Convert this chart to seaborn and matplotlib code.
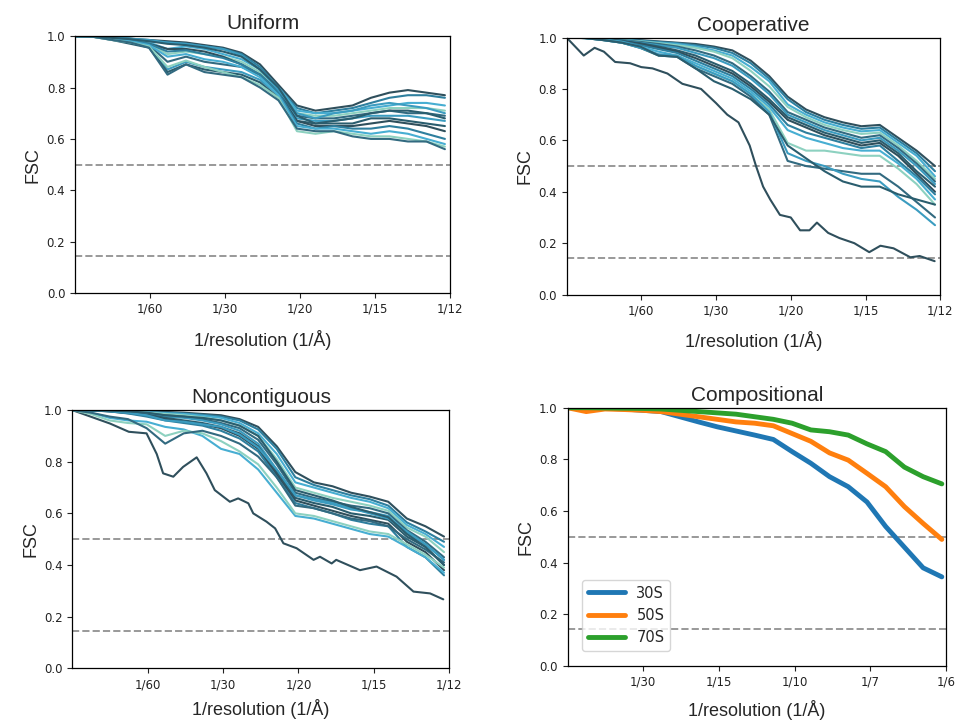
import numpy as np
import pandas as pd
import matplotlib
matplotlib.use("Agg")
import matplotlib.pyplot as plt
import seaborn as sns

# ---- data ----
# common sampling grid, fraction of the plotted x range
grid_frac = np.linspace(0, 1, 21)

uniform_curves = [
    [1.00, 1.00, .995, .99, .985, .98, .975, .965, .955, .935, .89, .81, .73, .71, .72, .73, .76, .78, .79, .78, .77],
    [1.00, 1.00, .995, .99, .98, .975, .97, .96, .95, .93, .88, .80, .72, .70, .71, .72, .74, .76, .77, .77, .76],
    [1.00, .998, .99, .985, .975, .95, .96, .95, .93, .91, .87, .80, .71, .70, .70, .71, .72, .73, .74, .74, .73],
    [1.00, .998, .99, .98, .97, .93, .94, .93, .92, .90, .86, .79, .70, .69, .69, .70, .71, .72, .72, .72, .71],
    [1.00, .998, .99, .98, .965, .90, .92, .90, .89, .88, .85, .78, .69, .68, .68, .69, .70, .71, .70, .70, .69],
    [1.00, .998, .988, .975, .96, .87, .90, .88, .87, .86, .83, .77, .68, .67, .67, .68, .69, .69, .69, .68, .67],
    [1.00, .997, .985, .97, .955, .86, .89, .87, .86, .85, .82, .76, .67, .66, .66, .66, .68, .68, .67, .66, .65],
    [1.00, .997, .99, .98, .97, .95, .95, .94, .92, .89, .85, .78, .67, .65, .65, .65, .66, .67, .66, .65, .63],
    [1.00, .998, .99, .985, .97, .94, .945, .93, .915, .89, .85, .78, .66, .64, .65, .64, .64, .65, .64, .62, .60],
    [1.00, .998, .99, .98, .965, .92, .93, .91, .90, .88, .84, .77, .65, .64, .64, .63, .62, .63, .62, .60, .58],
    [1.00, .997, .985, .975, .96, .88, .905, .88, .86, .84, .81, .76, .63, .62, .63, .62, .61, .61, .60, .59, .57],
    [1.00, .997, .985, .975, .955, .85, .89, .86, .85, .84, .80, .75, .64, .63, .63, .61, .60, .60, .59, .59, .56],
    [1.00, .999, .995, .99, .985, .975, .97, .96, .95, .925, .87, .79, .70, .68, .70, .71, .73, .74, .73, .72, .70],
    [1.00, .999, .993, .988, .98, .97, .965, .955, .94, .92, .87, .80, .69, .66, .67, .68, .70, .71, .71, .70, .68],
]

coop_curves = [
    [1.00, 1.00, .998, .995, .99, .985, .98, .975, .965, .95, .91, .85, .77, .72, .69, .67, .655, .66, .61, .56, .50],
    [1.00, 1.00, .997, .993, .988, .983, .978, .97, .96, .94, .90, .84, .76, .71, .68, .66, .645, .65, .60, .55, .48],
    [1.00, 1.00, .997, .992, .986, .98, .975, .965, .95, .93, .885, .83, .74, .70, .67, .65, .635, .64, .59, .54, .46],
    [1.00, .999, .996, .99, .985, .978, .97, .96, .945, .92, .87, .81, .73, .69, .66, .64, .625, .63, .58, .52, .45],
    [1.00, .999, .995, .99, .983, .975, .965, .95, .93, .90, .85, .79, .71, .68, .65, .63, .61, .62, .57, .51, .44],
    [1.00, .999, .995, .988, .98, .97, .96, .94, .92, .89, .84, .78, .70, .67, .64, .62, .60, .61, .56, .50, .43],
    [1.00, .999, .994, .987, .978, .965, .95, .93, .90, .87, .82, .76, .69, .66, .63, .61, .59, .60, .55, .48, .42],
    [1.00, .999, .994, .986, .975, .96, .945, .92, .89, .86, .81, .75, .68, .65, .62, .60, .58, .59, .54, .47, .40],
    [1.00, .998, .993, .985, .97, .955, .94, .91, .88, .85, .80, .74, .66, .63, .61, .59, .57, .58, .52, .46, .39],
    [1.00, .998, .992, .983, .965, .945, .93, .90, .87, .84, .79, .73, .64, .61, .59, .57, .56, .56, .51, .45, .37],
    [1.00, .998, .99, .98, .96, .93, .93, .89, .86, .83, .78, .72, .59, .56, .56, .55, .54, .54, .49, .43, .35],
    [1.00, .998, .99, .98, .96, .93, .925, .88, .85, .82, .77, .70, .52, .50, .49, .48, .47, .47, .42, .36, .30],
    [1.00, .998, .99, .98, .96, .935, .93, .89, .86, .83, .78, .71, .55, .52, .50, .47, .45, .44, .38, .33, .27],
    [1.00, .998, .99, .98, .965, .93, .925, .88, .83, .80, .76, .70, .58, .53, .48, .44, .42, .42, .39, .37, .35],
]
coop_outlier_frac = [0, .046, .075, .10, .13, .17, .20, .23, .27, .30, .31, .36, .40, .43, .46, .49, .507,
                     .526, .545, .571, .60, .625, .65, .67, .70, .73, .77, .81, .84, .875, .92, .945, .985]
coop_outlier_fsc = [1.0, .93, .96, .945, .905, .90, .885, .88, .86, .83, .82, .80, .745, .70, .67, .58, .50,
                    .42, .37, .31, .30, .25, .25, .28, .24, .22, .20, .165, .19, .18, .145, .15, .13]

noncontig_curves = [
    [1.00, 1.00, .999, .997, .995, .993, .99, .985, .98, .965, .935, .86, .76, .72, .705, .68, .665, .645, .58, .55, .51],
    [1.00, 1.00, .999, .996, .994, .99, .987, .982, .975, .96, .925, .85, .74, .71, .69, .67, .655, .63, .565, .53, .49],
    [1.00, 1.00, .998, .995, .992, .988, .985, .978, .97, .95, .91, .83, .72, .70, .68, .66, .645, .62, .555, .52, .47],
    [1.00, 1.00, .998, .995, .99, .985, .98, .972, .96, .94, .90, .81, .70, .68, .66, .645, .63, .61, .545, .51, .45],
    [1.00, .999, .997, .993, .988, .98, .975, .965, .95, .93, .885, .79, .68, .66, .645, .63, .62, .60, .535, .49, .43],
    [1.00, .999, .997, .992, .985, .975, .97, .96, .945, .92, .87, .77, .67, .65, .635, .615, .605, .59, .525, .48, .42],
    [1.00, .999, .996, .99, .983, .97, .96, .95, .935, .91, .86, .76, .66, .64, .625, .60, .59, .575, .51, .47, .40],
    [1.00, .999, .995, .988, .98, .965, .955, .945, .93, .90, .85, .75, .65, .63, .61, .59, .575, .56, .49, .45, .38],
    [1.00, .999, .995, .987, .975, .96, .95, .94, .92, .89, .84, .74, .64, .62, .60, .575, .56, .55, .47, .43, .36],
    [1.00, .99, .97, .96, .955, .935, .925, .90, .85, .83, .77, .68, .59, .58, .56, .54, .52, .51, .47, .43, .37],
    [1.00, .985, .96, .95, .945, .90, .92, .91, .88, .84, .79, .70, .60, .59, .57, .55, .53, .52, .48, .44, .39],
    [1.00, .99, .975, .965, .93, .87, .91, .92, .90, .87, .82, .74, .63, .62, .60, .58, .57, .55, .50, .46, .41],
    [1.00, .999, .996, .99, .98, .96, .955, .945, .935, .905, .855, .77, .67, .655, .64, .62, .60, .58, .53, .48, .42],
    [1.00, .999, .998, .995, .99, .98, .975, .97, .96, .94, .90, .80, .69, .67, .65, .625, .605, .585, .52, .47, .40],
]
noncontig_outlier_frac = [0, .05, .10, .15, .197, .224, .241, .268, .294, .33, .356, .378, .418, .44, .467, .48,
                          .515, .538, .56, .595, .64, .657, .688, .70, .763, .807, .86, .905, .949, .984]
noncontig_outlier_fsc = [1.0, .974, .948, .916, .91, .83, .755, .742, .78, .817, .755, .69, .645, .658, .639, .60,
                         .568, .542, .484, .465, .42, .432, .406, .42, .38, .394, .355, .297, .29, .267]

subunits = ["30S", "50S", "70S"]
comp_30s = [1.00, 1.00, .998, .995, .99, .985, .965, .945, .926, .91, .894, .877, .83, .785, .733, .694, .635, .54, .46, .38, .345]
comp_50s = [1.00, .985, .995, .993, .99, .985, .975, .965, .955, .945, .94, .93, .90, .87, .825, .797, .746, .694, .617, .552, .49]
comp_70s = [1.00, 1.00, .999, .998, .997, .995, .99, .985, .98, .975, .965, .955, .94, .914, .907, .894, .86, .83, .77, .733, .705]

# ---- style ----
sns.set_style("ticks")
plt.rcParams['font.family'] = ['DejaVu Sans']
label_font = ['Liberation Sans', 'DejaVu Sans']
shades = ["#2f4f5c", "#2e7f9e", "#47aed2", "#8dd1c0", "#326a80", "#3b9cc0", "#2a5d6e"]


def long_frame(curves, xmax, end=0.986):
    rows = []
    for i, c in enumerate(curves):
        for f, v in zip(grid_frac, c):
            rows.append({"curve": i, "freq": f * xmax * end, "fsc": v})
    return pd.DataFrame(rows)


def style_axes(ax, title, ticks, ticklabels, xmax, xpad=10):
    ax.axhline(0.5, color="#999999", ls="--", lw=1.4, zorder=0.5)
    ax.axhline(0.143, color="#999999", ls="--", lw=1.4, zorder=0.5)
    ax.set_xlim(0, xmax)
    ax.set_ylim(0, 1)
    ax.set_xticks(ticks)
    ax.set_xticklabels(ticklabels)
    ax.set_yticks(np.arange(0, 1.01, 0.2))
    ax.tick_params(labelsize=8.5, length=3.5, colors="#222222")
    for s in ax.spines.values():
        s.set_color("black")
        s.set_linewidth(0.9)
    ax.set_title(title, fontsize=15, family=label_font, pad=5)
    ax.set_ylabel("FSC", fontsize=13, family=label_font, labelpad=3.5)
    ax.set_xlabel("1/resolution (1/Å)", fontsize=13, family=label_font, labelpad=xpad)


def bundle(ax, curves, xmax, outlier=None):
    if outlier is not None:
        ax.plot([f * xmax for f in outlier[0]], outlier[1], color=shades[0], lw=1.5)
    df = long_frame(curves, xmax)
    pal = [shades[i % len(shades)] for i in range(len(curves))]
    sns.lineplot(data=df, x="freq", y="fsc", hue="curve", palette=pal, estimator=None,
                 lw=1.5, legend=False, ax=ax)


fig = plt.figure(figsize=(9.57, 7.22), dpi=100)
ax1 = fig.add_axes([0.0784, 0.594, 0.392, 0.356])
ax2 = fig.add_axes([0.592, 0.592, 0.3905, 0.356])
ax3 = fig.add_axes([0.0755, 0.0744, 0.394, 0.3576])
ax4 = fig.add_axes([0.593, 0.0776, 0.3955, 0.3577])

xmax12 = 1 / 12
ticks12 = [1 / 60, 1 / 30, 1 / 20, 1 / 15, 1 / 12]
labels12 = ["1/60", "1/30", "1/20", "1/15", "1/12"]

bundle(ax1, uniform_curves, xmax12)
style_axes(ax1, "Uniform", ticks12, labels12, xmax12)

bundle(ax2, coop_curves, xmax12, (coop_outlier_frac, coop_outlier_fsc))
style_axes(ax2, "Cooperative", ticks12, labels12, xmax12)

bundle(ax3, noncontig_curves, xmax12, (noncontig_outlier_frac, noncontig_outlier_fsc))
style_axes(ax3, "Noncontiguous", ticks12, labels12, xmax12, xpad=6)

# compositional panel
xmax6 = 1 / 6
comp_rows = []
for name, vals in zip(subunits, [comp_30s, comp_50s, comp_70s]):
    for f, v in zip(grid_frac, vals):
        comp_rows.append({"sub": name, "freq": f * xmax6 * 0.989, "fsc": v})
comp_df = pd.DataFrame(comp_rows)
sns.lineplot(data=comp_df, x="freq", y="fsc", hue="sub", palette=sns.color_palette("tab10", 3),
             estimator=None, lw=3.5, ax=ax4)
style_axes(ax4, "Compositional", [1 / 30, 1 / 15, 1 / 10, 2 / 15, 1 / 6],
           ["1/30", "1/15", "1/10", "1/7", "1/6"], xmax6, xpad=8)
ax4.legend(loc="lower left", bbox_to_anchor=(0.02, 0.03), fontsize=10.5, handlelength=2.5)

fig.savefig("out.png", dpi=100)
